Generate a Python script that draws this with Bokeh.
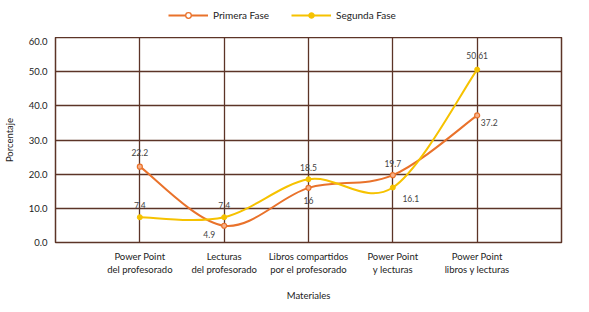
from bokeh.plotting import figure
from bokeh.layouts import column
from bokeh.models import (ColumnDataSource, FixedTicker, NumeralTickFormatter,
                          Legend, LegendItem, Range1d)
from bokeh.core.properties import value
from bokeh.embed import file_html
from bokeh.resources import INLINE

categories = ["Power Point\ndel profesorado", "Lecturas\ndel profesorado",
              "Libros compartidos\npor el profesorado", "Power Point\ny lecturas",
              "Power Point\nlibros y lecturas"]
primera = [22.2, 4.9, 16, 19.7, 37.2]
segunda = [7.4, 7.4, 18.5, 16.1, 50.61]
y_ticks = [0, 10, 20, 30, 40, 50, 60]
series_names = ["Primera Fase", "Segunda Fase"]

# label offsets (pixels) - styling only
primera_off = [(0, -14), (-15, 9), (0, 13), (0, -12), (12, 7)]
segunda_off = [(0, -12), (0, -12), (0, -12), (18, 11), (0, -14)]

ORANGE = "#E9722B"
YELLOW = "#F6C200"
GRID = "#5C3427"
FONT = "Lato"

xs = list(range(1, len(categories) + 1))

# ---- legend strip (series drawn out of view; only the legend shows) ----
lg = figure(width=580, height=37, output_backend="svg", toolbar_location=None,
            x_range=Range1d(100, 101), y_range=Range1d(100, 101),
            min_border_left=0, min_border_right=0, min_border_top=0, min_border_bottom=0,
            x_axis_type=None, y_axis_type=None)
lg.outline_line_color = None
lg.grid.visible = False
l1 = lg.line(xs, primera, line_color=ORANGE, line_width=2)
m1 = lg.scatter(xs, primera, size=9, marker="circle", line_color=ORANGE, fill_color="white", line_width=1.3)
l2 = lg.line(xs, segunda, line_color=YELLOW, line_width=2)
m2 = lg.scatter(xs, segunda, size=9, marker="circle", line_color=YELLOW, fill_color=YELLOW)
legend = Legend(items=[LegendItem(label=series_names[0], renderers=[l1, m1]),
                       LegendItem(label=series_names[1], renderers=[l2, m2])],
                orientation="horizontal", location=(113, 15), padding=0, margin=0,
                spacing=22, glyph_width=40, glyph_height=14, label_standoff=5,
                border_line_color=None, background_fill_alpha=0,
                label_text_font=FONT, label_text_font_size="10px",
                label_text_color="#222222")
lg.add_layout(legend, "center")

# ---- main chart ----
p = figure(width=580, height=266, output_backend="svg", toolbar_location=None,
           x_range=Range1d(0, len(categories) + 1), y_range=Range1d(0, 60),
           min_border_left=10, min_border_right=19, min_border_top=0,
           min_border_bottom=10)

def smooth(ys):
    n = len(ys)
    seg = dict(x0=[], y0=[], x1=[], y1=[], cx0=[], cy0=[], cx1=[], cy1=[])
    for i in range(n - 1):
        pm = max(i - 1, 0)
        pp = min(i + 2, n - 1)
        seg["x0"].append(xs[i]); seg["y0"].append(ys[i])
        seg["x1"].append(xs[i + 1]); seg["y1"].append(ys[i + 1])
        seg["cx0"].append(xs[i] + (xs[i + 1] - xs[pm]) / 6)
        seg["cy0"].append(ys[i] + (ys[i + 1] - ys[pm]) / 6)
        seg["cx1"].append(xs[i + 1] - (xs[pp] - xs[i]) / 6)
        seg["cy1"].append(ys[i + 1] - (ys[pp] - ys[i]) / 6)
    return ColumnDataSource(seg)

for ys, col in ((primera, ORANGE), (segunda, YELLOW)):
    p.bezier(x0="x0", y0="y0", x1="x1", y1="y1", cx0="cx0", cy0="cy0",
             cx1="cx1", cy1="cy1", source=smooth(ys), line_color=col, line_width=2)

p.scatter(xs, primera, size=5, marker="circle", line_color=ORANGE, fill_color="#F6B08A", line_width=1.2)
p.scatter(xs, segunda, size=5, marker="circle", line_color=YELLOW, fill_color=YELLOW)

for ys, off in ((primera, primera_off), (segunda, segunda_off)):
    src = ColumnDataSource(dict(x=xs, y=ys, t=[f"{v:g}" for v in ys],
                                dx=[o[0] for o in off], dy=[o[1] for o in off]))
    p.text(x="x", y="y", text="t", x_offset="dx", y_offset="dy", source=src,
           text_align="center", text_baseline="middle", text_font_size="8.5px",
           text_color="#444444", text_font=value(FONT))

p.xaxis.ticker = FixedTicker(ticks=xs)
p.xaxis.major_label_overrides = {x: c for x, c in zip(xs, categories)}
p.yaxis.ticker = FixedTicker(ticks=y_ticks)
p.yaxis.formatter = NumeralTickFormatter(format="0.0")
p.xaxis.axis_label = "Materiales"
p.yaxis.axis_label = "Porcentaje"
for ax in (p.xaxis, p.yaxis):
    ax.axis_line_color = None
    ax.major_tick_line_color = None
    ax.minor_tick_line_color = None
    ax.major_tick_out = 0
    ax.major_tick_in = 0
    ax.minor_tick_out = 0
    ax.minor_tick_in = 0
    ax.major_label_text_font = FONT
    ax.major_label_text_font_size = "9.5px"
    ax.major_label_text_color = "#222222"
    ax.axis_label_text_font = FONT
    ax.axis_label_text_font_size = "9.5px"
    ax.axis_label_text_font_style = "normal"
    ax.axis_label_text_color = "#222222"
p.xaxis.major_label_standoff = 8
p.xaxis.axis_label_standoff = 12
p.yaxis.major_label_standoff = 8
p.yaxis.axis_label_standoff = 11

p.xgrid.ticker = FixedTicker(ticks=xs)
p.ygrid.ticker = FixedTicker(ticks=y_ticks)
p.grid.grid_line_color = GRID
p.grid.grid_line_width = 1.3
p.outline_line_color = GRID
p.outline_line_width = 1.5
p.outline_line_alpha = 1

layout = column(lg, p, spacing=0)
open("out.html", "w").write(file_html(layout, INLINE))
